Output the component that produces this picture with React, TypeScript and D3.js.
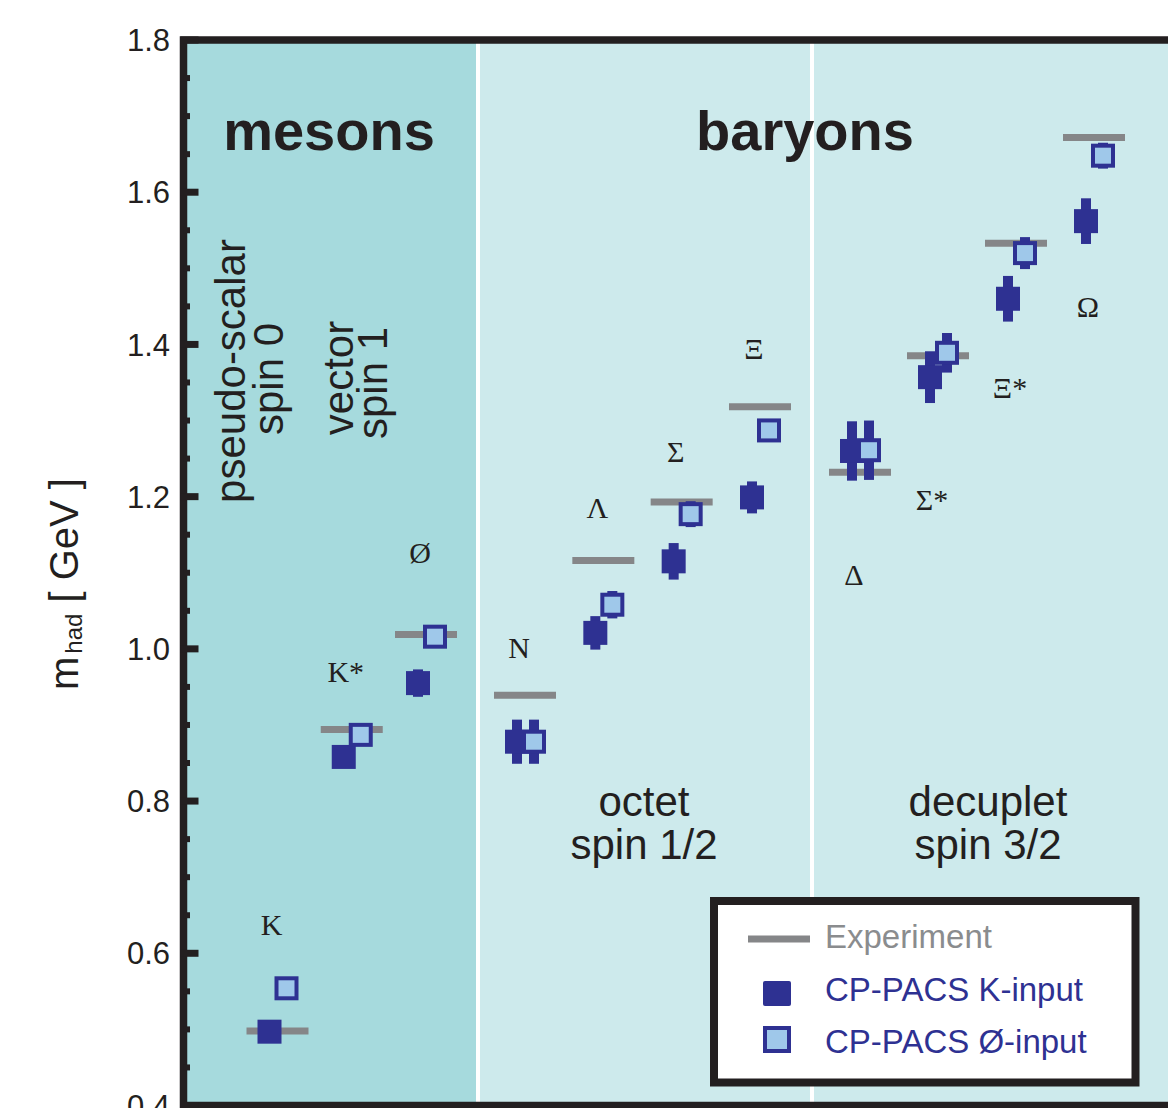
import * as d3 from "d3";
import { useEffect, useRef } from "react";

// hadrons, in the order they appear from left to right
const hadrons = ["K", "K*", "Ø", "N", "Λ", "Σ", "Ξ", "Δ", "Σ*", "Ξ*", "Ω"];
const sectorNames = ["mesons", "octet", "decuplet"];
const sectorOf = [0, 0, 0, 1, 1, 1, 1, 2, 2, 2, 2];

// masses in GeV
const experiment = [0.498, 0.894, 1.019, 0.939, 1.116, 1.193, 1.318, 1.232, 1.385, 1.533, 1.672];
const kInput = [0.497, 0.858, 0.955, 0.878, 1.021, 1.115, 1.199, 1.26, 1.357, 1.46, 1.562];
const kInputErr = [0, 0, 0.018, 0.029, 0.022, 0.024, 0.021, 0.039, 0.034, 0.03, 0.03];
const phiInput = [0.554, 0.887, 1.016, 0.878, 1.058, 1.177, 1.287, 1.261, 1.389, 1.52, 1.648];
const phiInputErr = [0, 0, 0, 0.029, 0.018, 0.017, 0.012, 0.039, 0.026, 0.021, 0.017];
// mass level where each particle name is written
const labelMass = [0.624, 0.956, 1.113, 0.988, 1.172, 1.245, 1.381, 1.084, 1.182, 1.33, 1.436];

const yTicks = [0.4, 0.6, 0.8, 1.0, 1.2, 1.4, 1.6, 1.8];

const BLUE = "#2e3192";
const LIGHT = "#9fc8ea";
const GRAY = "#858688";
const INK = "#231f20";
const SANS = "'Liberation Sans', Arial, sans-serif";
const SERIF = "'Liberation Serif', 'Times New Roman', serif";

export default function App() {
  const ref = useRef<SVGSVGElement>(null);

  useEffect(() => {
    if (!ref.current) return;
    const svg = d3.select(ref.current);
    svg.selectAll("*").remove();

    const W = 1168;
    const H = 1108;
    const left = 183.5;
    const top = 40;
    const bottom = 1105.5;
    const right = 1195;
    const dividers = [478, 812];
    const edges = [left, ...dividers, 1146];

    const y = d3.scaleLinear().domain([0.4, 1.8]).range([bottom, top]);

    // one point scale per sector
    const padL = [94, 47, 48];
    const padR = 52;
    const sectorScales = sectorNames.map((_, s) =>
      d3
        .scalePoint<string>()
        .domain(hadrons.filter((_, i) => sectorOf[i] === s))
        .range([edges[s] + padL[s], edges[s + 1] - padR])
    );
    const x = (i: number) => sectorScales[sectorOf[i]](hadrons[i]) as number;

    svg.attr("width", W).attr("height", H).attr("viewBox", `0 0 ${W} ${H}`);
    svg.append("rect").attr("width", W).attr("height", H).attr("fill", "#fff");

    // backgrounds
    svg.append("rect").attr("x", left).attr("y", top).attr("width", dividers[0] - left).attr("height", bottom - top).attr("fill", "#a6dadd");
    svg.append("rect").attr("x", dividers[0]).attr("y", top).attr("width", right - dividers[0]).attr("height", bottom - top).attr("fill", "#cdeaec");
    dividers.forEach(d => {
      svg.append("line").attr("x1", d).attr("x2", d).attr("y1", top).attr("y2", bottom).attr("stroke", "#fff").attr("stroke-width", 4);
    });

    // titles
    const title = (t: string, cx: number) =>
      svg.append("text").attr("x", cx).attr("y", 150).attr("text-anchor", "middle")
        .attr("font-family", SANS).attr("font-weight", 700).attr("font-size", 56).attr("fill", INK).text(t);
    title("mesons", 329);
    title("baryons", 805);

    const multi = (lines: string[], cx: number, y0: number) => {
      lines.forEach((l, k) => {
        svg.append("text").attr("x", cx).attr("y", y0 + k * 43).attr("text-anchor", "middle")
          .attr("font-family", SANS).attr("font-size", 42).attr("fill", INK).text(l);
      });
    };
    multi(["octet", "spin 1/2"], 644, 816);
    multi(["decuplet", "spin 3/2"], 988, 816);

    const vert = (t: string, bx: number, cy: number) =>
      svg.append("text").attr("transform", `translate(${bx},${cy}) rotate(-90)`).attr("text-anchor", "middle")
        .attr("font-family", SANS).attr("font-size", 42).attr("fill", INK).text(t);
    vert("pseudo-scalar", 245, 371);
    vert("spin 0", 283, 379);
    vert("vector", 353, 378);
    vert("spin 1", 387, 383);

    // particle names
    hadrons.forEach((h, i) => {
      svg.append("text").attr("x", x(i) - 6).attr("y", y(labelMass[i])).attr("text-anchor", "middle")
        .attr("font-family", SERIF).attr("font-size", 30).attr("fill", INK).text(h);
    });

    // experiment
    svg.append("g").selectAll("line").data(experiment).join("line")
      .attr("x1", (_, i) => x(i) - 31).attr("x2", (_, i) => x(i) + 31)
      .attr("y1", d => y(d)).attr("y2", d => y(d))
      .attr("stroke", GRAY).attr("stroke-width", 7);

    // error bars
    const errBars = (vals: number[], errs: number[], dx: number) =>
      svg.append("g").selectAll("rect").data(vals).join("rect")
        .attr("x", (_, i) => x(i) + dx - 5).attr("width", 10)
        .attr("y", (d, i) => y(d + errs[i])).attr("height", (d, i) => y(d - errs[i]) - y(d + errs[i]))
        .attr("fill", BLUE);
    errBars(kInput, kInputErr, -8);
    errBars(phiInput, phiInputErr, 9);

    // K-input
    svg.append("g").selectAll("rect").data(kInput).join("rect")
      .attr("x", (_, i) => x(i) - 8 - 12).attr("y", d => y(d) - 12)
      .attr("width", 24).attr("height", 24).attr("fill", BLUE);

    // phi-input
    svg.append("g").selectAll("rect").data(phiInput).join("rect")
      .attr("x", (_, i) => x(i) + 9 - 10).attr("y", d => y(d) - 10)
      .attr("width", 20).attr("height", 20).attr("fill", LIGHT)
      .attr("stroke", BLUE).attr("stroke-width", 4);

    // frame
    svg.append("rect").attr("x", left).attr("y", top).attr("width", right - left).attr("height", bottom - top)
      .attr("fill", "none").attr("stroke", INK).attr("stroke-width", 7.5);

    // y ticks
    const minor = d3.range(0.45, 1.8, 0.05).filter(v => Math.abs(v * 5 - Math.round(v * 5)) > 0.01);
    svg.append("g").selectAll("line").data(minor).join("line")
      .attr("x1", left).attr("x2", left + 6.5).attr("y1", d => y(d)).attr("y2", d => y(d))
      .attr("stroke", INK).attr("stroke-width", 6);
    svg.append("g").selectAll("line").data(yTicks).join("line")
      .attr("x1", left - 3).attr("x2", left + 15).attr("y1", d => y(d)).attr("y2", d => y(d))
      .attr("stroke", INK).attr("stroke-width", 7);
    svg.append("g").selectAll("text").data(yTicks).join("text")
      .attr("x", 170).attr("y", d => y(d)).attr("dy", "0.36em").attr("text-anchor", "end")
      .attr("font-family", SANS).attr("font-size", 31).attr("fill", INK)
      .text(d => d.toFixed(1));

    // y label
    const yl = svg.append("text").attr("transform", "translate(78,690) rotate(-90)")
      .attr("font-family", SANS).attr("font-size", 40).attr("fill", INK);
    yl.append("tspan").text("m");
    yl.append("tspan").attr("font-size", 24).attr("dy", 4).attr("dx", 3).text("had");
    yl.append("tspan").attr("dy", -4).text(" [ GeV ]");

    // legend
    const lg = svg.append("g");
    lg.append("rect").attr("x", 714).attr("y", 901).attr("width", 421.5).attr("height", 181.5)
      .attr("fill", "#fff").attr("stroke", INK).attr("stroke-width", 8);
    lg.append("line").attr("x1", 748).attr("x2", 810).attr("y1", 939).attr("y2", 939)
      .attr("stroke", GRAY).attr("stroke-width", 7);
    lg.append("rect").attr("x", 763).attr("y", 981).attr("width", 28).attr("height", 25).attr("rx", 2).attr("fill", BLUE);
    lg.append("rect").attr("x", 765).attr("y", 1028).attr("width", 24).attr("height", 23)
      .attr("fill", LIGHT).attr("stroke", BLUE).attr("stroke-width", 4);
    const entries = [
      { t: "Experiment", c: "#8a8c8e", y: 948 },
      { t: "CP-PACS K-input", c: BLUE, y: 1001 },
      { t: "CP-PACS Ø-input", c: BLUE, y: 1053 },
    ];
    entries.forEach(e => {
      lg.append("text").attr("x", 825).attr("y", e.y).attr("font-family", SANS).attr("font-size", 33)
        .attr("fill", e.c).text(e.t);
    });
  }, []);

  return <svg ref={ref} style={{ position: "absolute", left: 0, top: 0, display: "block" }} />;
}
